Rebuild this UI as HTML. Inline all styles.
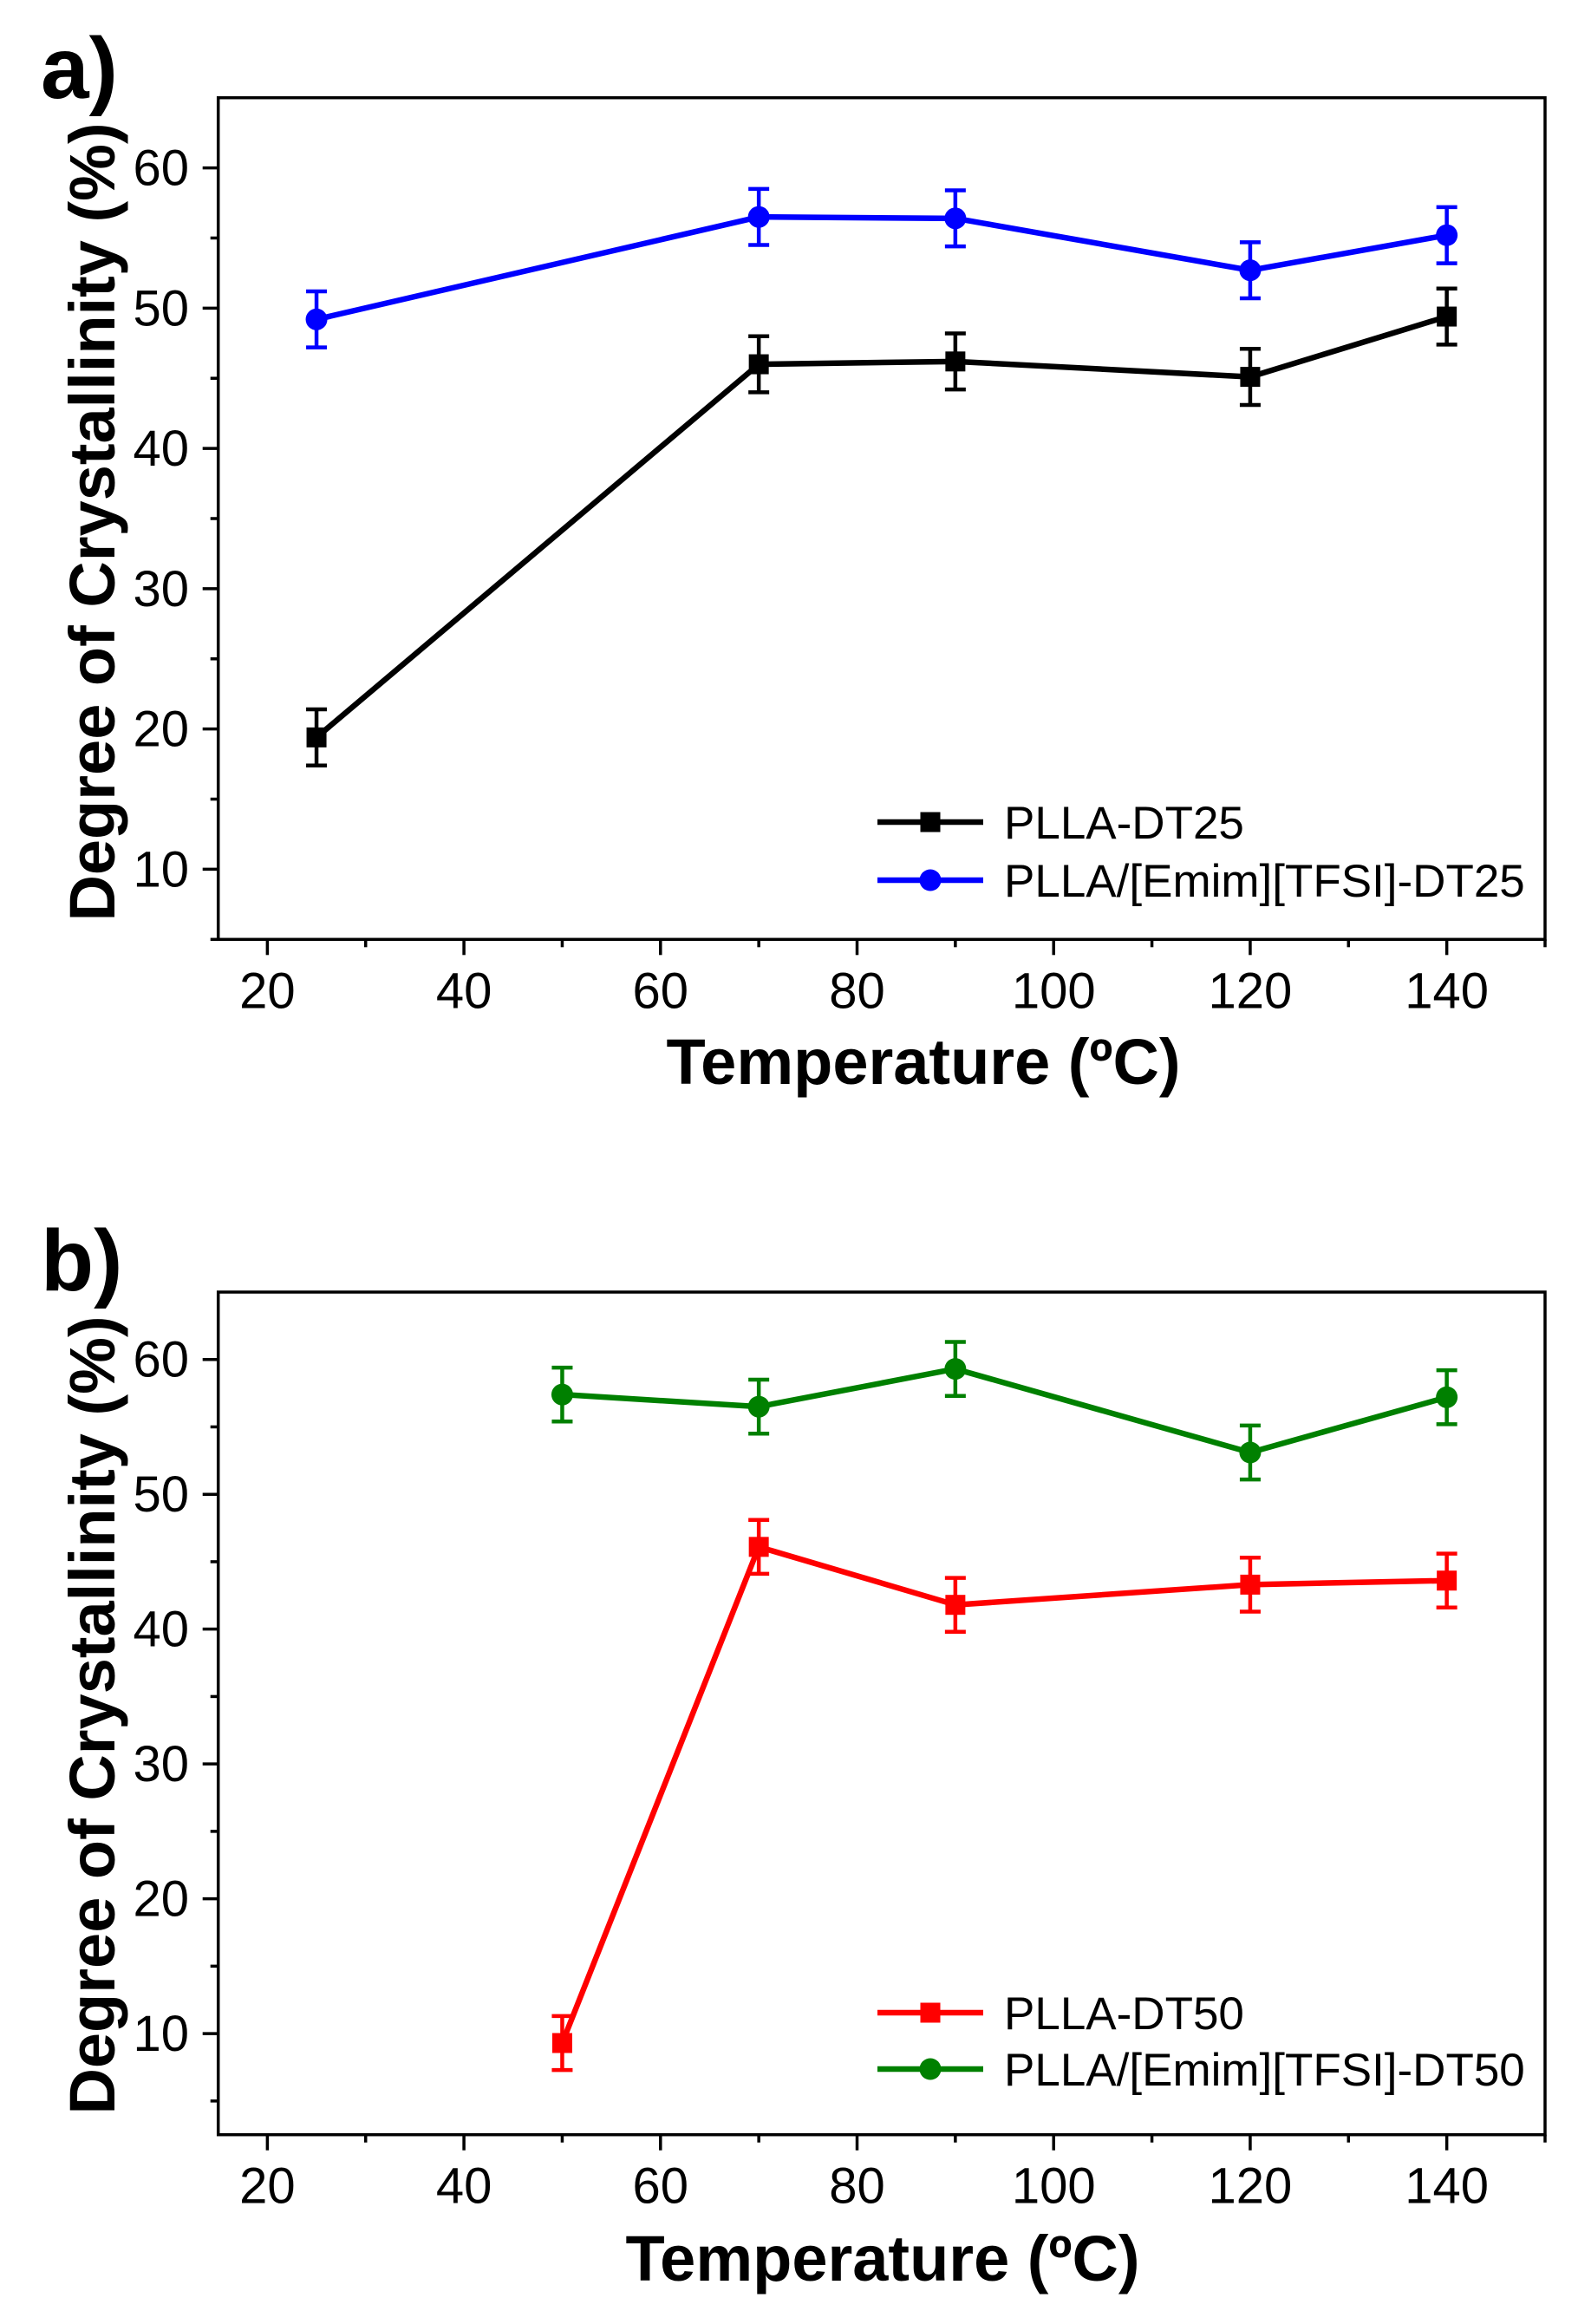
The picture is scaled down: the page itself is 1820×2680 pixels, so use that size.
<!DOCTYPE html>
<html><head><meta charset="utf-8">
<style>
html,body{margin:0;padding:0;background:#fff;}
svg{display:block;font-family:"Liberation Sans",Arial,sans-serif;}
</style></head>
<body>
<svg id="fig" width="1820" height="2680" viewBox="0 0 1820 2680" xmlns="http://www.w3.org/2000/svg">
<rect width="1820" height="2680" fill="#fff"/>
</svg>
<script>
// ---- data ----
const tempsA = [25, 70, 90, 120, 140];
const dt25 = [19.4, 46.0, 46.2, 45.1, 49.4];
const dt25Err = [2.0, 2.0, 2.0, 2.0, 2.0];
const ilDt25 = [49.2, 56.5, 56.4, 52.7, 55.2];
const ilDt25Err = [2.0, 2.0, 2.0, 2.0, 2.0];
const tempsB = [50, 70, 90, 120, 140];
const dt50 = [9.3, 46.1, 41.8, 43.3, 43.6];
const dt50Err = [2.0, 2.0, 2.0, 2.0, 2.0];
const ilDt50 = [57.4, 56.5, 59.3, 53.1, 57.2];
const ilDt50Err = [2.0, 2.0, 2.0, 2.0, 2.0];
const xTickLabels = [20, 40, 60, 80, 100, 120, 140];
const yTickLabels = [10, 20, 30, 40, 50, 60];

const NS = "http://www.w3.org/2000/svg";
const svg = document.getElementById("fig");
function el(tag, attrs, parent) {
  const e = document.createElementNS(NS, tag);
  for (const k in attrs) e.setAttribute(k, attrs[k]);
  (parent || svg).appendChild(e);
  return e;
}

function panel(cfg) {
  const g = el("g", {});
  
  
  const L = 251.7, R = 1782, T = cfg.top, B = cfg.bottom;
  const xs = v => L + (v - 15) / (150 - 15) * (R - L);
  const ys = v => B - (v - cfg.ymin) / (65 - cfg.ymin) * (B - T);

  const lt = el("text", {x: 47, y: cfg.letterY, "font-size": 100, "font-weight": "bold"}, g);
  lt.textContent = cfg.letter;
  
  

  const fr = el("rect", {x: L, y: T, width: R - L, height: B - T, fill: "none", stroke: "#000", "stroke-width": 3.5}, g);
  
  

  for (let v = 20; v <= 150; v += 10) {
    const major = xTickLabels.includes(v);
    const t = el("line", {x1: xs(v), x2: xs(v), y1: B, y2: B + (major ? 18 : 9), stroke: "#000", "stroke-width": 3.5}, g);
    
    
  }
  xTickLabels.forEach(v => {
    const t = el("text", {x: xs(v), y: B + 79, "font-size": 58, "text-anchor": "middle"}, g);
    t.textContent = v;
    
    
  });
  for (let v = 5; v < 65; v += 5) {
    if (v < cfg.ymin) continue;
    const major = yTickLabels.includes(v);
    const t = el("line", {x1: L, x2: L - (major ? 18 : 9), y1: ys(v), y2: ys(v), stroke: "#000", "stroke-width": 3.5}, g);
    
    
  }
  yTickLabels.forEach(v => {
    const t = el("text", {x: 218, y: ys(v) + 20, "font-size": 58, "text-anchor": "end"}, g);
    t.textContent = v;
    
    
  });

  const yt = el("text", {x: 0, y: 0, "font-size": 74, "font-weight": "bold", "text-anchor": "middle",
    transform: `translate(132,${cfg.yTitleCY}) rotate(-90)`}, g);
  yt.textContent = "Degree of Crystallinity (%)";
  
  
  const xt = el("text", {x: cfg.xTitleX, y: cfg.xTitleY, "font-size": 74, "font-weight": "bold", "text-anchor": "middle"}, g);
  xt.textContent = "Temperature (ºC)";
  
  

  cfg.series.forEach((s, si) => {
    const sg = el("g", {}, g);
    
    
    const pts = s.x.map((xv, i) => xs(xv) + "," + ys(s.y[i])).join(" ");
    const pl = el("polyline", {points: pts, fill: "none", stroke: s.color, "stroke-width": 6.5, "stroke-linejoin": "round"}, sg);
    
    
    s.x.forEach((xv, i) => {
      const cx = xs(xv), y1 = ys(s.y[i] + s.err[i]), y2 = ys(s.y[i] - s.err[i]);
      const eb = el("path", {d: `M${cx},${y1}V${y2}M${cx-12},${y1}H${cx+12}M${cx-12},${y2}H${cx+12}`, stroke: s.color, "stroke-width": 4.5, fill: "none"}, sg);
      
      
      let m;
      if (s.marker === "square") m = el("rect", {x: cx - 11.5, y: ys(s.y[i]) - 11.5, width: 23, height: 23, fill: s.color}, sg);
      else m = el("circle", {cx: cx, cy: ys(s.y[i]), r: 12.5, fill: s.color}, sg);
      
      
    });
    const ly = cfg.legendY[si];
    const lg = el("g", {}, g);
    
    
    el("line", {x1: 1012, x2: 1134, y1: ly, y2: ly, stroke: s.color, "stroke-width": 6.5}, lg);
    if (s.marker === "square") el("rect", {x: 1061.5, y: ly - 11.5, width: 23, height: 23, fill: s.color}, lg);
    else el("circle", {cx: 1073, cy: ly, r: 12.5, fill: s.color}, lg);
    const lt2 = el("text", {x: 1158, y: ly + 19, "font-size": 53}, lg);
    lt2.textContent = s.label;
  });
}

panel({name: "panel-a", letter: "a)", letterY: 113, top: 112.7, bottom: 1083.3, ymin: 5,
  yTitleCY: 602, xTitleX: 1065, xTitleY: 1250, legendY: [948, 1015],
  series: [
    {key: "plla-dt25", label: "PLLA-DT25", x: tempsA, y: dt25, err: dt25Err, color: "#000000", marker: "square"},
    {key: "plla-il-dt25", label: "PLLA/[Emim][TFSI]-DT25", x: tempsA, y: ilDt25, err: ilDt25Err, color: "#0000ff", marker: "circle"}
  ]});
panel({name: "panel-b", letter: "b)", letterY: 1488, top: 1490, bottom: 2461.7, ymin: 2.5,
  yTitleCY: 1978, xTitleX: 1018, xTitleY: 2630, legendY: [2321, 2386],
  series: [
    {key: "plla-dt50", label: "PLLA-DT50", x: tempsB, y: dt50, err: dt50Err, color: "#ff0000", marker: "square"},
    {key: "plla-il-dt50", label: "PLLA/[Emim][TFSI]-DT50", x: tempsB, y: ilDt50, err: ilDt50Err, color: "#008000", marker: "circle"}
  ]});
</script>
</body></html>
